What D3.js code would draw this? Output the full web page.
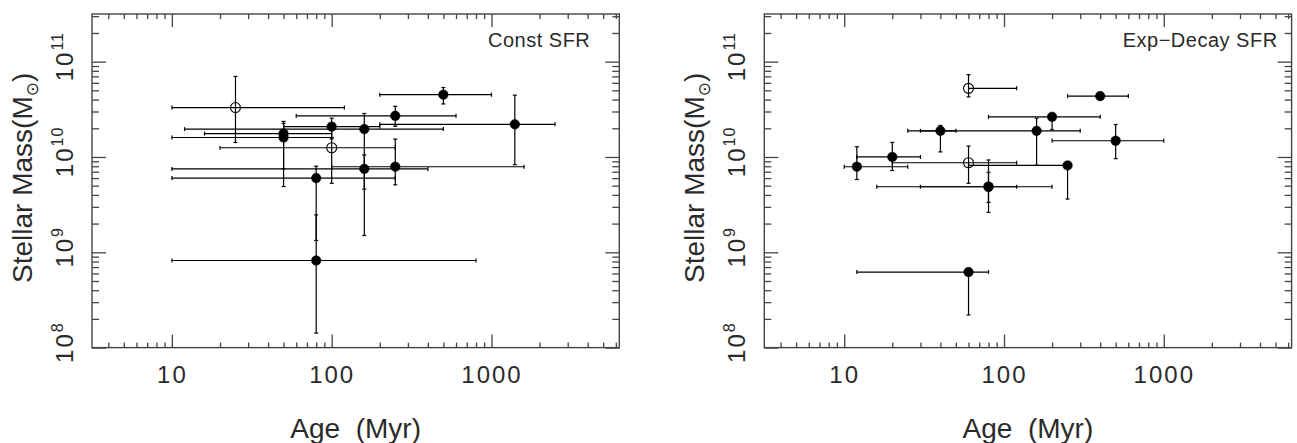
<!DOCTYPE html>
<meta charset="utf-8">
<style>
body { margin: 0; background: #fff; }
text { font-family: "Liberation Sans", Arial, sans-serif; fill: #2a2a2a; }
.frame { fill: none; stroke: #444; stroke-width: 1.4; }
.tick line { stroke: #444; stroke-width: 1.3; }
.err { stroke: #000; stroke-width: 1.2; }
</style>
<body>
<script src="https://cdn.jsdelivr.net/npm/d3@7"></script>
<script>
// --- values ---
// Const SFR panel
var constAge    = [25, 50, 50, 100, 100, 160, 160, 250, 250, 500, 1400, 80, 80];
var constAgeLo  = [10, 16, 10, 50, 20, 12, 10, 60, 100, 200, 200, 10, 10];
var constAgeHi  = [120, 100, 100, 200, 250, 500, 400, 600, 1600, 1000, 2500, 250, 800];
var constMass   = [3.3e10, 1.76e10, 1.6e10, 2.08e10, 1.25e10, 1.96e10, 7.5e9, 2.7e10, 7.9e9, 4.5e10, 2.2e10, 6.0e9, 8.2e8];
var constMassLo = [1.42e10, 7.5e9, 4.9e9, 1.6e10, 5.3e9, 4.6e9, 1.5e9, 2.1e10, 5.1e9, 3.6e10, 8.3e9, 1.33e9, 1.42e8];
var constMassHi = [7.0e10, 2.36e10, 2.25e10, 2.55e10, 1.55e10, 2.86e10, 1.05e10, 3.4e10, 1.54e10, 5.35e10, 4.45e10, 8.0e9, 2.47e9];
var constOpen   = [1, 0, 0, 0, 1, 0, 0, 0, 0, 0, 0, 0, 0];

// Exp-Decay SFR panel
var expAge    = [12, 20, 40, 60, 60, 80, 80, 160, 200, 250, 400, 500, 60];
var expAgeLo  = [10, 12, 25, 60, 20, 30, 16, 30, 80, 60, 250, 200, 12];
var expAgeHi  = [25, 30, 50, 120, 120, 120, 200, 300, 400, 250, 600, 1000, 80];
var expMass   = [7.9e9, 1.0e10, 1.88e10, 5.25e10, 8.7e9, 4.87e9, 4.87e9, 1.88e10, 2.64e10, 8.15e9, 4.35e10, 1.48e10, 6.2e8];
var expMassLo = [5.8e9, 7.2e9, 1.13e10, 4.27e10, 5.3e9, 3.34e9, 2.62e9, 8.2e9, 1.93e10, 3.62e9, 4.35e10, 9.6e9, 2.2e8];
var expMassHi = [1.28e10, 1.42e10, 2.14e10, 7.3e10, 1.3e10, 6.9e9, 9.3e9, 2.55e10, 2.64e10, 8.15e9, 4.35e10, 2.19e10, 6.2e8];
var expOpen   = [0, 0, 0, 1, 1, 0, 0, 0, 0, 0, 0, 0, 0];

// axes
var xMajor = [10, 100, 1000];
var xTickLabels = ["10", "100", "1000"];
var yMajor = [1e8, 1e9, 1e10, 1e11];
var yTickExp = ["8", "9", "10", "11"];

var W = 527.3, H = 333.6, top0 = 14;

var svg = d3.select("body").append("svg")
    .attr("width", 1297)
    .attr("height", 443);

function rows(age, lo, hi, m, mlo, mhi, open) {
  return age.map(function(a, i) {
    return {age: a, ageLo: lo[i], ageHi: hi[i], mass: m[i], massLo: mlo[i], massHi: mhi[i], open: open[i]};
  });
}

var panels = [
  {left: 92, label: "Const SFR", labelInset: 29,
   data: rows(constAge, constAgeLo, constAgeHi, constMass, constMassLo, constMassHi, constOpen)},
  {left: 764.3, label: "Exp\u2212Decay SFR", labelInset: 14,
   data: rows(expAge, expAgeLo, expAgeHi, expMass, expMassLo, expMassHi, expOpen)}
];

function isMajor(v) {
  var l = Math.log10(v);
  return Math.abs(l - Math.round(l)) < 1e-9;
}

panels.forEach(function(p) {
  var g = svg.append("g").attr("transform", "translate(" + p.left + "," + top0 + ")");

  var x = d3.scaleLog().domain([Math.pow(10, 0.5), Math.pow(10, 3.8)]).range([0, W]);
  var y = d3.scaleLog().domain([1e8, Math.pow(10, 11.5)]).range([H, 0]);

  var xMinor = x.ticks().filter(function(v) { return !isMajor(v); });
  var yMinor = y.ticks().filter(function(v) { return !isMajor(v); });

  // ticks on all four sides, pointing inward
  g.append("g").attr("transform", "translate(0," + H + ")")
    .call(d3.axisBottom(x).tickValues(xMajor).tickSizeInner(-13).tickSizeOuter(0)
      .tickPadding(18).tickFormat(function(d, i) { return xTickLabels[i]; }))
    .call(function(a) {
      a.selectAll("text").style("font-size", "24px").style("letter-spacing", "2px")
        .attr("fill", "#2a2a2a");
    });
  g.append("g").attr("transform", "translate(0," + H + ")")
    .call(d3.axisBottom(x).tickValues(xMinor).tickSizeInner(-5).tickSizeOuter(0).tickFormat(""));
  g.append("g")
    .call(d3.axisTop(x).tickValues(xMajor).tickSizeInner(-13).tickSizeOuter(0).tickFormat(""));
  g.append("g")
    .call(d3.axisTop(x).tickValues(xMinor).tickSizeInner(-5).tickSizeOuter(0).tickFormat(""));
  g.append("g")
    .call(d3.axisLeft(y).tickValues(yMajor).tickSizeInner(-14).tickSizeOuter(0).tickFormat(""));
  g.append("g")
    .call(d3.axisLeft(y).tickValues(yMinor).tickSizeInner(-7).tickSizeOuter(0).tickFormat(""));
  g.append("g").attr("transform", "translate(" + W + ",0)")
    .call(d3.axisRight(y).tickValues(yMajor).tickSizeInner(-14).tickSizeOuter(0).tickFormat(""));
  g.append("g").attr("transform", "translate(" + W + ",0)")
    .call(d3.axisRight(y).tickValues(yMinor).tickSizeInner(-7).tickSizeOuter(0).tickFormat(""));
  g.selectAll(".domain").remove();

  g.append("rect").attr("class", "frame").attr("width", W).attr("height", H);

  // y tick labels, rotated, 10^n
  yMajor.forEach(function(v, i) {
    var t = g.append("text")
      .attr("transform", "translate(-19," + (y(v) - 5) + ") rotate(-90)")
      .attr("text-anchor", "middle")
      .style("font-size", "24px")
      .style("letter-spacing", "2px");
    t.append("tspan").text("10");
    t.append("tspan").attr("dy", -10).style("font-size", "16px").style("letter-spacing", "1px")
      .text(yTickExp[i]);
  });

  // axis titles
  g.append("text")
    .attr("x", W / 2).attr("y", 424)
    .attr("text-anchor", "middle")
    .style("font-size", "28px")
    .style("white-space", "pre")
    .text("Age  (Myr)");

  var yt = g.append("text")
    .attr("transform", "translate(-60," + (H / 2 - 3) + ") rotate(-90)")
    .attr("text-anchor", "middle")
    .style("font-size", "28px");
  yt.append("tspan").text("Stellar Mass(M");
  yt.append("tspan").attr("dy", 6).style("font-family", "DejaVu Sans").style("font-size", "17px").text("\u2299");
  yt.append("tspan").attr("dy", -6).text(")");

  g.append("text")
    .attr("x", W - p.labelInset).attr("y", 33)
    .attr("text-anchor", "end")
    .style("font-size", "20px")
    .style("letter-spacing", "0.5px")
    .text(p.label);

  // error bars
  var cap = 2;
  var pts = g.append("g");
  p.data.forEach(function(d) {
    var cx = x(d.age), cy = y(d.mass);
    if (d.ageHi !== d.ageLo) {
      pts.append("line").attr("class", "err")
        .attr("x1", x(d.ageLo)).attr("x2", x(d.ageHi)).attr("y1", cy).attr("y2", cy);
      [d.ageLo, d.ageHi].forEach(function(v) {
        if (v === d.age) return;
        pts.append("line").attr("class", "err")
          .attr("x1", x(v)).attr("x2", x(v)).attr("y1", cy - cap).attr("y2", cy + cap);
      });
    }
    if (d.massHi !== d.massLo) {
      pts.append("line").attr("class", "err")
        .attr("x1", cx).attr("x2", cx).attr("y1", y(d.massLo)).attr("y2", y(d.massHi));
      [d.massLo, d.massHi].forEach(function(v) {
        if (v === d.mass) return;
        pts.append("line").attr("class", "err")
          .attr("x1", cx - cap).attr("x2", cx + cap).attr("y1", y(v)).attr("y2", y(v));
      });
    }
  });

  // markers
  pts.selectAll("circle")
    .data(p.data)
    .enter().append("circle")
      .attr("cx", function(d) { return x(d.age); })
      .attr("cy", function(d) { return y(d.mass); })
      .attr("r", function(d) { return d.open ? 5 : 4.8; })
      .attr("fill", function(d) { return d.open ? "none" : "#000"; })
      .attr("stroke", "#000")
      .attr("stroke-width", function(d) { return d.open ? 1.1 : 0.5; });
});
</script>
</body>
